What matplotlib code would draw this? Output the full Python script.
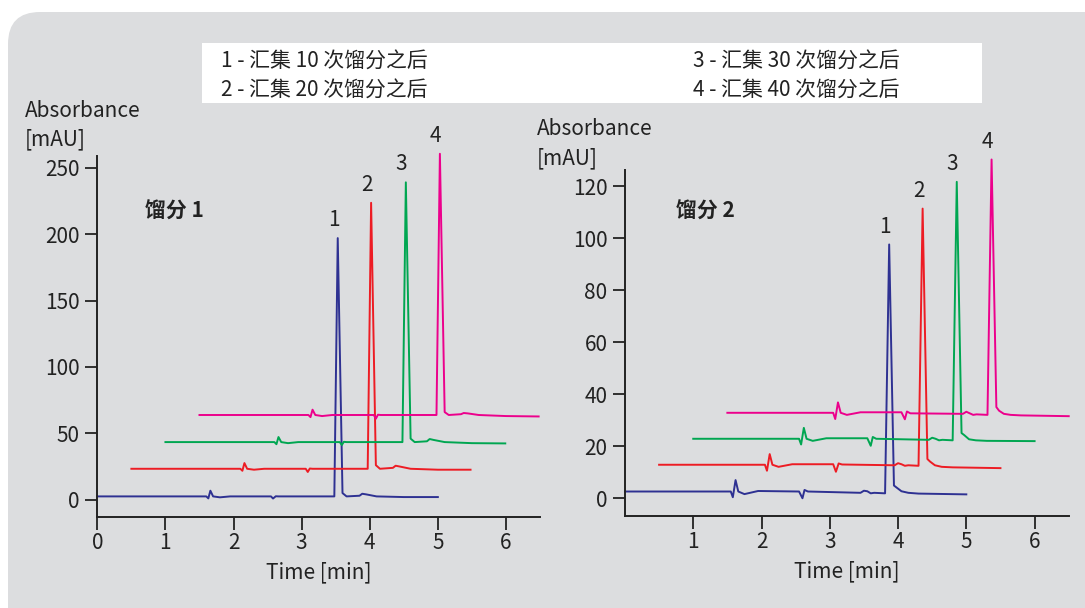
import numpy as np
import matplotlib
matplotlib.use("Agg")
import matplotlib.pyplot as plt
from matplotlib.patches import FancyBboxPatch, Rectangle
from matplotlib.transforms import IdentityTransform

plt.rcParams['font.family'] = ['Noto Sans CJK SC', 'DejaVu Sans']

colors = ['#2e3192', '#ed1c24', '#00a651', '#ec008c']
legend_labels = ['1 - 汇集 10 次馏分之后', '2 - 汇集 20 次馏分之后',
                 '3 - 汇集 30 次馏分之后', '4 - 汇集 40 次馏分之后']
peak_labels = ['1', '2', '3', '4']

# fraction 1 (time [min], absorbance [mAU])
f1_t1 = [0, 1.60, 1.63, 1.66, 1.70, 1.80, 1.95, 2.55, 2.58, 2.62, 2.66, 3.48, 3.53, 3.60, 3.66, 3.85, 3.89, 3.95, 4.1, 4.5, 5.0]
f1_a1 = [2.5, 2.5, 1.0, 6.8, 2.5, 1.8, 2.5, 2.5, 0.9, 2.6, 2.5, 2.5, 197, 5, 2.5, 3.0, 4.5, 4.0, 2.5, 2.0, 2.0]
f1_t2 = [0.5, 2.10, 2.13, 2.16, 2.20, 2.30, 2.45, 3.06, 3.09, 3.12, 3.16, 3.97, 4.02, 4.09, 4.15, 4.34, 4.38, 4.44, 4.6, 5.0, 5.48]
f1_a2 = [23.3, 23.3, 21.8, 27.6, 23.3, 22.6, 23.3, 23.3, 20.9, 23.5, 23.3, 23.3, 223.6, 26, 23.3, 24, 25.6, 25, 23.3, 22.6, 22.6]
f1_t3 = [1.0, 2.60, 2.63, 2.66, 2.70, 2.80, 2.95, 3.56, 3.59, 3.62, 3.66, 4.48, 4.53, 4.60, 4.66, 4.84, 4.88, 4.94, 5.1, 5.5, 5.99]
f1_a3 = [43.4, 43.4, 41.8, 47.2, 43.4, 42.6, 43.4, 43.4, 41.2, 43.6, 43.4, 43.4, 239, 46, 43.4, 44, 45.7, 45, 43.4, 42.6, 42.4]
f1_t4 = [1.5, 3.10, 3.13, 3.16, 3.20, 3.30, 3.45, 4.06, 4.09, 4.12, 4.16, 4.98, 5.03, 5.10, 5.16, 5.34, 5.38, 5.44, 5.6, 6.0, 6.48]
f1_a4 = [63.8, 63.8, 62.2, 67.8, 63.8, 63.0, 63.8, 63.8, 61.0, 64.0, 63.8, 63.8, 260.5, 66, 63.8, 64.4, 65.3, 65, 63.8, 63, 62.7]

# fraction 2
f2_t1 = [0, 1.55, 1.58, 1.62, 1.66, 1.75, 1.95, 2.55, 2.60, 2.63, 2.68, 3.45, 3.50, 3.55, 3.60, 3.65, 3.81, 3.87, 3.94, 3.98, 4.05, 4.15, 4.3, 5.0]
f2_a1 = [2.5, 2.5, 0.3, 6.9, 2.5, 1.5, 2.7, 2.5, -0.1, 3.1, 2.5, 2.0, 2.8, 2.6, 1.8, 2.0, 1.8, 97.6, 4.8, 4.0, 2.6, 2.0, 1.7, 1.4]
f2_t2 = [0.5, 2.05, 2.08, 2.12, 2.16, 2.25, 2.45, 3.05, 3.09, 3.13, 3.18, 3.95, 4.0, 4.05, 4.1, 4.15, 4.30, 4.36, 4.43, 4.47, 4.54, 4.64, 4.8, 5.5]
f2_a2 = [12.8, 12.8, 10.5, 16.9, 12.8, 12.0, 13.0, 13.0, 10.1, 13.3, 12.9, 12.6, 13.4, 13.0, 12.4, 12.6, 12.4, 111.4, 15, 14, 12.6, 12.0, 11.8, 11.5]
f2_t3 = [1.0, 2.55, 2.58, 2.62, 2.66, 2.75, 2.95, 3.55, 3.60, 3.63, 3.68, 4.45, 4.5, 4.55, 4.6, 4.65, 4.80, 4.86, 4.93, 4.97, 5.04, 5.14, 5.3, 6.0]
f2_a3 = [22.8, 22.8, 20.6, 27.0, 22.8, 22.0, 23.0, 23.0, 20.1, 23.5, 22.8, 22.4, 23.2, 22.8, 22.2, 22.4, 22.2, 121.7, 25, 24.2, 22.6, 22.2, 22.0, 21.9]
f2_t4 = [1.5, 3.05, 3.08, 3.12, 3.16, 3.25, 3.45, 4.05, 4.10, 4.13, 4.18, 4.95, 5.0, 5.05, 5.1, 5.15, 5.31, 5.37, 5.44, 5.48, 5.55, 5.65, 5.8, 6.5]
f2_a4 = [32.8, 32.8, 30.4, 36.8, 32.8, 32.0, 33.0, 33.0, 30.3, 33.3, 32.6, 32.4, 33.2, 32.6, 32.0, 32.2, 32.0, 130.3, 35, 33.6, 32.4, 32.0, 31.8, 31.5]

fig = plt.figure(figsize=(10.85, 6.08), dpi=100)
fig.patch.set_facecolor('white')

# grey rounded panel
bg = FancyBboxPatch((8, -40), 1120, 636, boxstyle='round,pad=0,rounding_size=32',
                    transform=IdentityTransform(), facecolor='#dcdddf', edgecolor='none', zorder=-10)
fig.patches.append(bg)
# white legend box
fig.patches.append(Rectangle((0.186, 0.8306), 0.719, 0.0987, transform=fig.transFigure,
                             facecolor='white', edgecolor='none', zorder=-5))

fig.text(0.2037, 0.898, legend_labels[0], fontsize=15, va='center', color='#222222')
fig.text(0.2037, 0.850, legend_labels[1], fontsize=15, va='center', color='#222222')
fig.text(0.6387, 0.898, legend_labels[2], fontsize=15, va='center', color='#222222')
fig.text(0.6387, 0.850, legend_labels[3], fontsize=15, va='center', color='#222222')

ax1 = fig.add_axes([0.0897, 0.1497, 0.408, 0.593])
ax2 = fig.add_axes([0.576, 0.151, 0.409, 0.570])

panels = [
    (ax1, [(f1_t1, f1_a1), (f1_t2, f1_a2), (f1_t3, f1_a3), (f1_t4, f1_a4)],
     (-13, 258.5), [0, 50, 100, 150, 200, 250], [0, 1, 2, 3, 4, 5, 6]),
    (ax2, [(f2_t1, f2_a1), (f2_t2, f2_a2), (f2_t3, f2_a3), (f2_t4, f2_a4)],
     (-7, 126.4), [0, 20, 40, 60, 80, 100, 120], [1, 2, 3, 4, 5, 6]),
]

for ax, traces, ylim, yt, xt in panels:
    ax.set_facecolor('none')
    for (t, a), c, lab in zip(traces, colors, peak_labels):
        ax.plot(t, a, color=c, lw=1.4, clip_on=False, solid_joinstyle='round')
        i = int(np.argmax(a))
        ax.annotate(lab, (t[i], a[i]), xytext=(-3, 5), textcoords='offset points',
                    ha='center', va='bottom', fontsize=15, color='#222222',
                    annotation_clip=False)
    ax.set_xlim(0, 6.5)
    ax.set_ylim(*ylim)
    ax.set_xticks(xt)
    ax.set_yticks(yt)
    for s in ['top', 'right']:
        ax.spines[s].set_visible(False)
    for s in ['left', 'bottom']:
        ax.spines[s].set_linewidth(1.4)
        ax.spines[s].set_color('#222222')
    ax.tick_params(axis='both', direction='out', length=9, width=1.3, color='#222222',
                   labelsize=15, labelcolor='#222222')
    ax.tick_params(axis='x', pad=2)
    ax.set_xlabel('Time [min]', fontsize=15, color='#222222', labelpad=5)

fig.text(0.1336, 0.653, '馏分 1', fontsize=15, fontweight='bold', va='center', color='#222222')
fig.text(0.623, 0.653, '馏分 2', fontsize=15, fontweight='bold', va='center', color='#222222')

fig.text(0.023, 0.8174, 'Absorbance', fontsize=15, va='center', color='#222222')
fig.text(0.023, 0.771, '[mAU]', fontsize=15, va='center', color='#222222')
fig.text(0.495, 0.788, 'Absorbance', fontsize=15, va='center', color='#222222')
fig.text(0.495, 0.740, '[mAU]', fontsize=15, va='center', color='#222222')

fig.savefig('out.png', dpi=100)
